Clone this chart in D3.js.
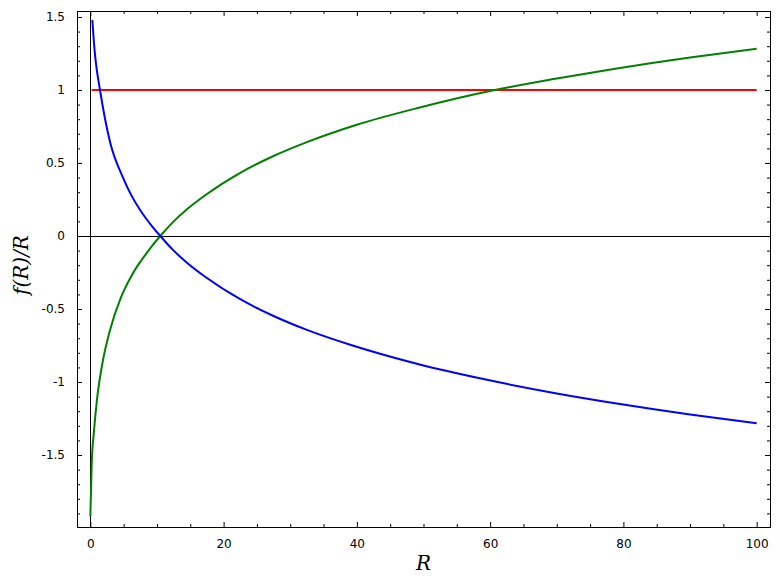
<!DOCTYPE html>
<html>
<head>
<meta charset="utf-8">
<script src="https://cdn.jsdelivr.net/npm/d3@7"></script>
<style>
  html, body { margin: 0; padding: 0; background: #fff; }
  svg { display: block; }
</style>
</head>
<body>
<svg id="chart" width="780" height="583"></svg>
<script>
// ---- data ----
const greenR = [0, 0.2, 0.55, 1.05, 1.8, 2.95, 4.6, 6.0, 7.0, 8.2, 9.3, 10.5, 12.4, 14.5, 17.5, 22.5, 27.5, 32.5, 40, 49, 60.5, 70, 79, 90, 100];
const greenY = [-1.92, -1.57, -1.335, -1.10, -0.875, -0.645, -0.42, -0.287, -0.21, -0.133, -0.066, 0, 0.095, 0.183, 0.288, 0.433, 0.548, 0.643, 0.762, 0.875, 0.998, 1.078, 1.147, 1.222, 1.282];
const blueR = [0.3, 0.55, 0.8, 1.45, 2.95, 4.95, 6.2, 7.45, 8.2, 9.3, 10.5, 12.4, 14.5, 17.5, 22.5, 27.5, 32.5, 39, 49, 59, 70, 79, 90, 100];
const blueY = [1.48, 1.32, 1.2, 1.0, 0.645, 0.395, 0.275, 0.18, 0.13, 0.065, 0, -0.095, -0.183, -0.288, -0.433, -0.548, -0.643, -0.745, -0.875, -0.98, -1.078, -1.147, -1.222, -1.282];
const redR = [0.2, 100];
const redY = [1, 1];
const xMajorTicks = [0, 20, 40, 60, 80, 100];
const yMajorTicks = [-1.5, -1, -0.5, 0, 0.5, 1, 1.5];
const xLabel = "R";
const yLabel = "f(R)/R";

// ---- layout ----
const L = 77, R = 770, T = 11, B = 527;
const svg = d3.select("#chart");
const x = d3.scaleLinear().domain([-2, 102]).range([L, R]);
const y = d3.scaleLinear().domain([-1.993, 1.541]).range([B, T]);

const xMinor = d3.range(0, 101, 5).filter(v => v % 20 !== 0);
const yMinor = d3.range(-19, 16).map(v => v / 10).filter(v => Math.abs(Math.round(v * 10) % 5) !== 0);

const fmt = d => String(d);
const tickFont = "DejaVu Sans, sans-serif";

// clip
svg.append("defs").append("clipPath").attr("id", "clip")
  .append("rect").attr("x", L).attr("y", T).attr("width", R - L).attr("height", B - T);

// zero axes lines
svg.append("line").attr("x1", x(0)).attr("x2", x(0)).attr("y1", T).attr("y2", B)
  .attr("stroke", "#000").attr("stroke-width", 1).attr("shape-rendering", "crispEdges");
svg.append("line").attr("x1", L).attr("x2", R).attr("y1", y(0)).attr("y2", y(0))
  .attr("stroke", "#000").attr("stroke-width", 1).attr("shape-rendering", "crispEdges");

// curves
const line = d3.line().x(d => x(d[0])).y(d => y(d[1])).curve(d3.curveMonotoneX);
const plot = svg.append("g").attr("clip-path", "url(#clip)");
plot.append("path").datum(redR.map((r, i) => [r, redY[i]]))
  .attr("d", line).attr("fill", "none").attr("stroke", "#ff0000").attr("stroke-width", 2);
plot.append("path").datum(greenR.map((r, i) => [r, greenY[i]]))
  .attr("d", line).attr("fill", "none").attr("stroke", "#008000").attr("stroke-width", 2);
plot.append("path").datum(blueR.map((r, i) => [r, blueY[i]]))
  .attr("d", line).attr("fill", "none").attr("stroke", "#0000ff").attr("stroke-width", 2);

// axes with inward ticks
function styleAxis(g) {
  g.select(".domain").remove();
  g.selectAll(".tick line").attr("stroke", "#000").attr("stroke-width", 1);
  g.selectAll(".tick text").attr("font-family", tickFont).attr("font-size", 12).attr("fill", "#000");
}
// bottom
svg.append("g").attr("transform", `translate(0,${B})`)
  .call(d3.axisBottom(x).tickValues(xMajorTicks).tickFormat(fmt).tickSizeInner(-5).tickSizeOuter(0).tickPadding(12))
  .call(styleAxis);
svg.append("g").attr("transform", `translate(0,${B})`)
  .call(d3.axisBottom(x).tickValues(xMinor).tickFormat("").tickSizeInner(-3).tickSizeOuter(0))
  .call(styleAxis);
// top
svg.append("g").attr("transform", `translate(0,${T})`)
  .call(d3.axisTop(x).tickValues(xMajorTicks).tickFormat("").tickSizeInner(-5).tickSizeOuter(0))
  .call(styleAxis);
svg.append("g").attr("transform", `translate(0,${T})`)
  .call(d3.axisTop(x).tickValues(xMinor).tickFormat("").tickSizeInner(-3).tickSizeOuter(0))
  .call(styleAxis);
// left
svg.append("g").attr("transform", `translate(${L},0)`)
  .call(d3.axisLeft(y).tickValues(yMajorTicks).tickFormat(fmt).tickSizeInner(-5).tickSizeOuter(0).tickPadding(12))
  .call(styleAxis);
svg.append("g").attr("transform", `translate(${L},0)`)
  .call(d3.axisLeft(y).tickValues(yMinor).tickFormat("").tickSizeInner(-3).tickSizeOuter(0))
  .call(styleAxis);
// right
svg.append("g").attr("transform", `translate(${R},0)`)
  .call(d3.axisRight(y).tickValues(yMajorTicks).tickFormat("").tickSizeInner(-5).tickSizeOuter(0))
  .call(styleAxis);
svg.append("g").attr("transform", `translate(${R},0)`)
  .call(d3.axisRight(y).tickValues(yMinor).tickFormat("").tickSizeInner(-3).tickSizeOuter(0))
  .call(styleAxis);

// frame
svg.append("rect").attr("x", L).attr("y", T).attr("width", R - L).attr("height", B - T)
  .attr("fill", "none").attr("stroke", "#000").attr("stroke-width", 1).attr("shape-rendering", "crispEdges");

// axis labels
svg.append("text").attr("x", (L + R) / 2).attr("y", 570).attr("text-anchor", "middle")
  .attr("font-family", "DejaVu Serif, serif").attr("font-style", "italic").attr("font-size", 20)
  .text(xLabel);
svg.append("text").attr("transform", `translate(28,265) rotate(-90)`).attr("text-anchor", "middle")
  .attr("font-family", "DejaVu Serif, serif").attr("font-style", "italic").attr("font-size", 20)
  .text(yLabel);
</script>
</body>
</html>
